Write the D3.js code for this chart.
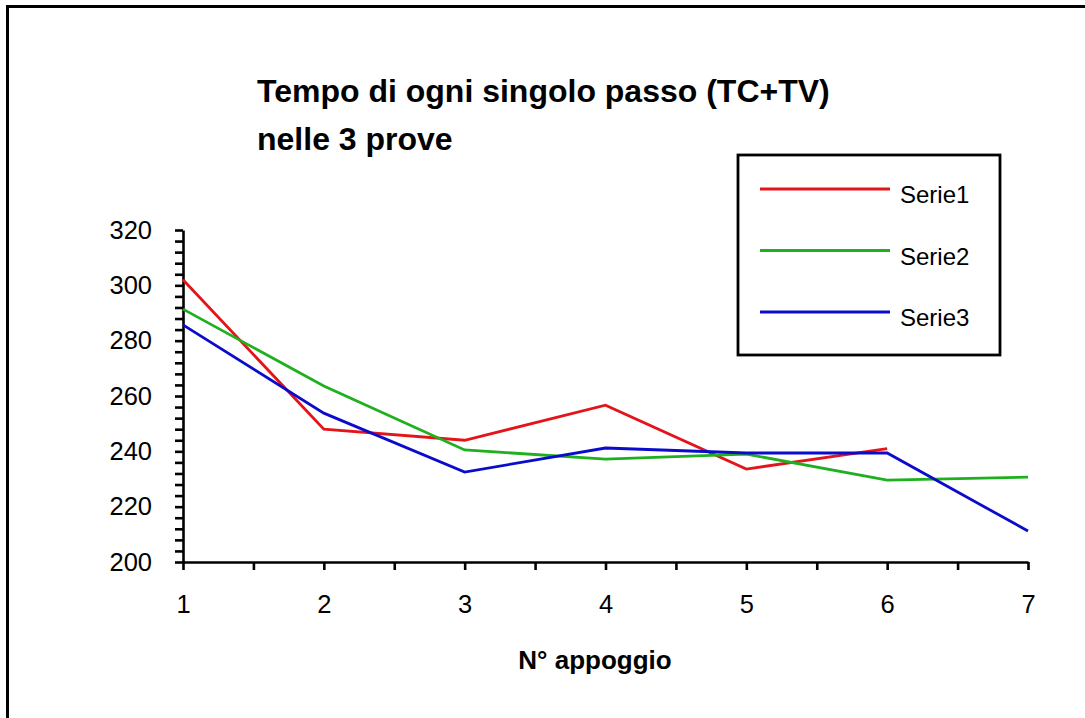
<!DOCTYPE html>
<html>
<head>
<meta charset="utf-8">
<script src="https://cdn.jsdelivr.net/npm/d3@7"></script>
<style>
  body { margin: 0; background: #fff; }
  text { font-family: "Liberation Sans", Arial, sans-serif; fill: #000; }
</style>
</head>
<body>
<svg id="chart"></svg>
<script>
const width = 1085, height = 718;

// Data
const steps = [1, 2, 3, 4, 5, 6, 7];
const serie1 = [302, 248, 244, 256.7, 233.6, 241];
const serie2 = [291.4, 263.6, 240.5, 237.2, 239, 229.6, 230.7];
const serie3 = [285.7, 253.8, 232.5, 241.2, 239.4, 239.4, 211.2];
const seriesNames = ["Serie1", "Serie2", "Serie3"];
const seriesColors = ["#e3141a", "#1fb01f", "#0b0bcc"];
const yTicks = [200, 220, 240, 260, 280, 300, 320];

const svg = d3.select("#chart")
    .attr("width", width)
    .attr("height", height);

// Frame of the chart area (right and bottom edges fall outside the picture)
svg.append("rect")
    .attr("x", 7.5)
    .attr("y", 6.5)
    .attr("width", 1200)
    .attr("height", 900)
    .attr("fill", "white")
    .attr("stroke", "black")
    .attr("stroke-width", 3);

// Scales
const xScale = d3.scaleLinear()
    .domain([1, 7])
    .range([183, 1028]);

const yScale = d3.scaleLinear()
    .domain([200, 320])
    .range([562, 230]);

// Title
const title = svg.append("text")
    .attr("x", 257)
    .attr("y", 102)
    .style("font-size", "32px")
    .style("font-weight", "bold");
title.append("tspan").attr("x", 257).text("Tempo di ogni singolo passo (TC+TV)");
title.append("tspan").attr("x", 257).attr("y", 150).text("nelle 3 prove");

// Y axis, minor ticks every 4
svg.append("g")
    .attr("transform", `translate(${xScale(1)}, 0)`)
    .call(d3.axisLeft(yScale)
        .tickValues(d3.range(200, 321, 4))
        .tickFormat(d => yTicks.includes(d) ? d : "")
        .tickSize(8)
        .tickSizeOuter(0)
        .tickPadding(23));

// X axis, ticks at each step and half step
svg.append("g")
    .attr("transform", `translate(0, ${yScale(200)})`)
    .call(d3.axisBottom(xScale)
        .tickValues(d3.range(1, 7.01, 0.5))
        .tickFormat(d => steps.includes(d) ? d : "")
        .tickSize(8)
        .tickSizeOuter(0)
        .tickPadding(25));

svg.selectAll(".domain, .tick line")
    .attr("stroke", "black")
    .attr("stroke-width", 2.6);
svg.selectAll(".tick text")
    .style("font-size", "25.5px")
    .style("font-family", "\"Liberation Sans\", Arial, sans-serif")
    .attr("fill", "black");

// X axis label
svg.append("text")
    .attr("x", 595)
    .attr("y", 669)
    .attr("text-anchor", "middle")
    .style("font-size", "26px")
    .style("font-weight", "bold")
    .text("N° appoggio");

// Lines
const line = d3.line()
    .x((d, i) => xScale(steps[i]))
    .y(d => yScale(d));

[serie1, serie2, serie3].forEach(function(values, k) {
    svg.append("path")
        .datum(values)
        .attr("fill", "none")
        .attr("stroke", seriesColors[k])
        .attr("stroke-width", 2.8)
        .attr("stroke-linejoin", "miter")
        .attr("d", line);
});

// Legend
svg.append("rect")
    .attr("x", 738)
    .attr("y", 155)
    .attr("width", 262)
    .attr("height", 200)
    .attr("fill", "white")
    .attr("stroke", "black")
    .attr("stroke-width", 2.8);

const legend = svg.selectAll(".legend")
    .data(seriesNames)
    .enter().append("g")
    .attr("class", "legend")
    .attr("transform", (d, i) => `translate(0, ${189 + i * 61.5})`);

legend.append("line")
    .attr("x1", 760)
    .attr("x2", 890)
    .attr("stroke", (d, i) => seriesColors[i])
    .attr("stroke-width", 2.8);

legend.append("text")
    .attr("x", 900)
    .attr("y", 14)
    .style("font-size", "24px")
    .text(d => d);
</script>
</body>
</html>
